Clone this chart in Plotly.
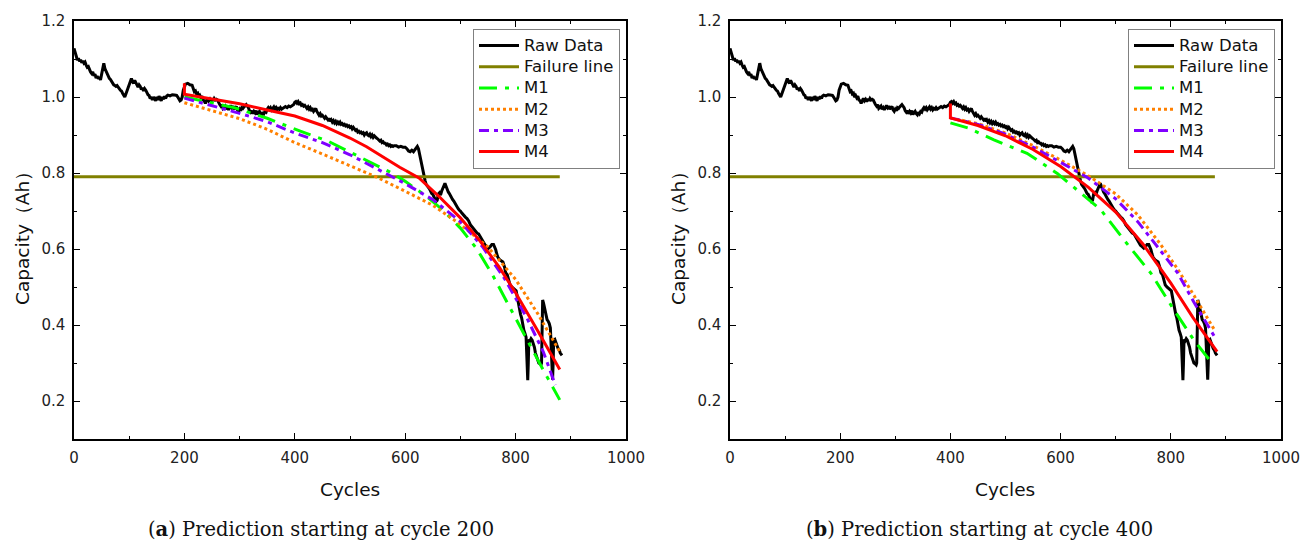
import plotly.graph_objects as go

# ---------------- data ----------------
raw_cycles = [
    0, 2, 4, 6, 8, 10, 12, 14, 16, 18, 20, 22, 24, 26, 28, 30, 32, 34, 36, 38, 40, 42, 44, 46, 48, 50,
    52, 54, 56, 58, 60, 62, 64, 66, 68, 70, 72, 74, 76, 78, 80, 82, 84, 86, 88, 90, 92, 94, 96, 98, 100,
    102, 104, 106, 108, 110, 112, 114, 116, 118, 120, 122, 124, 126, 128, 130, 132, 134, 136, 138, 140, 142, 144, 146, 148, 150,
    152, 154, 156, 158, 160, 162, 164, 166, 168, 170, 174, 178, 182, 186, 188, 190, 192, 194, 196, 198, 200, 202, 206, 210, 214,
    216, 218, 220, 222, 224, 226, 228, 230, 232, 234, 236, 238, 240, 242, 244, 246, 248, 250, 252, 254, 256, 258, 260, 262, 264,
    266, 268, 270, 272, 274, 276, 278, 280, 282, 284, 286, 288, 290, 292, 294, 296, 298, 300, 302, 304, 306, 308, 310, 312, 314,
    316, 318, 320, 322, 324, 326, 328, 330, 332, 334, 336, 338, 340, 342, 344, 346, 348, 350, 352, 354, 356, 358, 360, 362, 364,
    366, 368, 370, 372, 374, 376, 378, 380, 383, 386, 389, 392, 395, 398, 400, 402, 404, 406, 408, 410, 412, 414, 416, 418, 420,
    422, 424, 426, 428, 430, 432, 434, 436, 438, 440, 442, 444, 446, 448, 450, 452, 454, 456, 458, 460, 462, 464, 466, 468, 470,
    472, 474, 476, 478, 480, 482, 484, 486, 488, 490, 492, 494, 496, 498, 500, 502, 504, 506, 508, 510, 512, 514, 516, 518, 520,
    522, 524, 526, 528, 530, 532, 534, 536, 538, 540, 542, 544, 546, 548, 550, 552, 554, 556, 558, 560, 562, 564, 566, 568, 570,
    572, 574, 576, 578, 580, 584, 588, 592, 596, 600, 603, 606, 609, 612, 615, 618, 620, 622, 624, 626, 628, 630, 632, 634, 636,
    638, 640, 642, 644, 646, 648, 650, 652, 654, 656, 658, 660, 662, 664, 666, 668, 670, 672, 674, 676, 678, 680, 682, 684, 686,
    688, 690, 692, 694, 696, 698, 700, 703, 706, 709, 712, 715, 718, 721, 724, 727, 730, 733, 736, 739, 742, 745, 748, 751, 754,
    757, 760, 762, 764, 766, 768, 771, 774, 777, 780, 782, 785, 788, 790, 793, 796, 799, 801, 803, 805, 807, 809, 811, 813, 815,
    817, 819, 820, 821, 822, 823, 824, 826, 828, 830, 832, 834, 836, 838, 840, 842, 844, 846, 847, 848, 849, 851, 853, 855, 857,
    859, 861, 863, 865, 866, 867, 868, 869, 871, 873, 875, 877, 879, 881, 884]
raw_capacity = [
    1.128, 1.120, 1.108, 1.097, 1.102, 1.094, 1.098, 1.090, 1.095, 1.089, 1.092, 1.084, 1.078, 1.080, 1.070, 1.066, 1.062,
    1.066, 1.056, 1.060, 1.050, 1.055, 1.048, 1.052, 1.045, 1.058,
    1.080, 1.089, 1.075, 1.068, 1.060, 1.055, 1.049, 1.046, 1.040, 1.037, 1.032, 1.030, 1.028, 1.030, 1.024, 1.022, 1.018,
    1.016, 1.010, 1.006, 1.000, 1.008, 1.016, 1.024, 1.036,
    1.044, 1.049, 1.040, 1.036, 1.044, 1.038, 1.030, 1.026, 1.032, 1.028, 1.020, 1.024, 1.016, 1.022, 1.018, 1.010, 1.006,
    1.004, 0.996, 1.000, 0.992, 1.000, 0.994, 0.990, 1.000,
    0.992, 1.002, 0.995, 0.990, 1.000, 0.994, 1.002, 0.996, 1.003, 1.005, 1.003, 1.006, 1.005, 1.004, 1.000, 0.995, 0.990,
    0.992, 1.000, 1.018, 1.030, 1.034, 1.036, 1.032, 1.031,
    1.024, 1.014, 1.016, 1.008, 1.010, 1.000, 1.004, 0.998, 1.002, 0.992, 0.990, 0.983, 0.990, 0.996, 0.990, 0.994, 0.988,
    0.995, 0.990, 0.996, 0.992, 0.994, 0.992, 0.984, 0.980,
    0.976, 0.980, 0.970, 0.974, 0.976, 0.968, 0.972, 0.966, 0.974, 0.978, 0.972, 0.976, 0.968, 0.972, 0.975, 0.966, 0.962,
    0.968, 0.964, 0.972, 0.970, 0.974, 0.978, 0.980, 0.976,
    0.972, 0.964, 0.960, 0.964, 0.956, 0.962, 0.958, 0.964, 0.954, 0.958, 0.962, 0.956, 0.953, 0.960, 0.956, 0.962, 0.960,
    0.968, 0.972, 0.968, 0.972, 0.966, 0.970, 0.974, 0.968,
    0.972, 0.966, 0.970, 0.968, 0.972, 0.968, 0.970, 0.972, 0.975, 0.972, 0.976, 0.974, 0.978, 0.980, 0.986, 0.988, 0.984,
    0.988, 0.982, 0.984, 0.978, 0.980, 0.976, 0.978, 0.974,
    0.970, 0.974, 0.968, 0.972, 0.966, 0.968, 0.962, 0.966, 0.970, 0.962, 0.958, 0.952, 0.956, 0.950, 0.952, 0.946, 0.944,
    0.948, 0.944, 0.940, 0.944, 0.936, 0.940, 0.934, 0.938,
    0.932, 0.936, 0.930, 0.934, 0.930, 0.934, 0.928, 0.930, 0.926, 0.928, 0.924, 0.926, 0.922, 0.924, 0.920, 0.922, 0.916,
    0.920, 0.914, 0.912, 0.914, 0.908, 0.910, 0.906, 0.908,
    0.904, 0.906, 0.900, 0.904, 0.906, 0.900, 0.898, 0.902, 0.896, 0.900, 0.894, 0.898, 0.894, 0.892, 0.890, 0.886, 0.884,
    0.886, 0.880, 0.882, 0.878, 0.878, 0.874, 0.876, 0.872,
    0.874, 0.870, 0.872, 0.870, 0.872, 0.872, 0.868, 0.870, 0.868, 0.868, 0.864, 0.858, 0.856, 0.860, 0.856, 0.862, 0.866,
    0.870, 0.864, 0.850, 0.835, 0.817, 0.800, 0.790, 0.780,
    0.770, 0.764, 0.762, 0.758, 0.750, 0.746, 0.744, 0.738, 0.730, 0.725, 0.728, 0.745, 0.748, 0.742, 0.752, 0.760, 0.766,
    0.773, 0.765, 0.755, 0.750, 0.746, 0.740, 0.732, 0.730,
    0.726, 0.720, 0.716, 0.710, 0.706, 0.702, 0.700, 0.694, 0.688, 0.684, 0.680, 0.674, 0.664, 0.658, 0.652, 0.646, 0.642,
    0.640, 0.632, 0.626, 0.618, 0.610, 0.606, 0.602, 0.606,
    0.612, 0.612, 0.606, 0.598, 0.586, 0.578, 0.572, 0.570, 0.566, 0.552, 0.538, 0.532, 0.518, 0.505, 0.500, 0.496, 0.494,
    0.490, 0.474, 0.456, 0.440, 0.428, 0.418, 0.398, 0.386,
    0.378, 0.368, 0.330, 0.290, 0.255, 0.300, 0.362, 0.358, 0.364, 0.360, 0.352, 0.342, 0.326, 0.316, 0.306, 0.300, 0.298,
    0.295, 0.300, 0.420, 0.466, 0.455, 0.440, 0.424, 0.414,
    0.410, 0.404, 0.392, 0.340, 0.290, 0.256, 0.300, 0.360, 0.362, 0.350, 0.346, 0.338, 0.334, 0.326, 0.320]

failure_cycles = [0, 880]
failure_capacity = [0.79, 0.79]

# (a) prediction starting at cycle 200
a_m1_cycles = [200, 250, 290, 350, 410, 460, 530, 577, 600, 640, 670, 700, 730, 760, 790, 820, 850, 880]
a_m1_cap = [1.000, 0.985, 0.972, 0.944, 0.910, 0.884, 0.834, 0.799, 0.778, 0.737, 0.700, 0.655, 0.600, 0.527, 0.445,
            0.362, 0.282, 0.203]
a_m2_cycles = [200, 250, 300, 350, 400, 450, 500, 550, 600, 650, 700, 750, 800, 840, 880]
a_m2_cap = [0.985, 0.965, 0.943, 0.915, 0.880, 0.850, 0.820, 0.788, 0.752, 0.715, 0.665, 0.605, 0.520, 0.430, 0.330]
a_m3_cycles = [200, 250, 300, 350, 400, 450, 500, 550, 600, 650, 700, 740, 780, 820, 850, 872]
a_m3_cap = [0.997, 0.978, 0.957, 0.935, 0.905, 0.880, 0.848, 0.810, 0.772, 0.730, 0.672, 0.606, 0.522, 0.420, 0.330,
            0.242]
a_m4_cycles = [200, 200, 250, 300, 350, 400, 450, 500, 530, 560, 590, 625, 660, 700, 735, 770, 800, 840, 880]
a_m4_cap = [1.036, 1.007, 0.995, 0.982, 0.966, 0.950, 0.925, 0.892, 0.869, 0.843, 0.815, 0.787, 0.740, 0.682, 0.622,
            0.553, 0.485, 0.385, 0.283]

# (b) prediction starting at cycle 400
b_m1_cycles = [400, 433, 479, 539, 594, 630, 673, 715, 764, 806, 842, 873]
b_m1_cap = [0.932, 0.918, 0.887, 0.852, 0.799, 0.755, 0.703, 0.624, 0.536, 0.439, 0.360, 0.303]
b_m2_cycles = [400, 450, 500, 550, 600, 650, 700, 740, 780, 812, 842, 880]
b_m2_cap = [0.945, 0.930, 0.905, 0.872, 0.834, 0.793, 0.745, 0.690, 0.615, 0.548, 0.478, 0.385]
b_m3_cycles = [400, 450, 500, 550, 600, 650, 700, 740, 780, 812, 842, 879]
b_m3_cap = [0.945, 0.928, 0.902, 0.868, 0.828, 0.787, 0.732, 0.672, 0.598, 0.538, 0.460, 0.370]
b_m4_cycles = [400, 400, 450, 500, 550, 600, 650, 700, 750, 800, 840, 884]
b_m4_cap = [0.983, 0.945, 0.925, 0.898, 0.862, 0.817, 0.763, 0.697, 0.612, 0.510, 0.420, 0.330]

names = ["Raw Data", "Failure line", "M1", "M2", "M3", "M4"]
captions = ["(<b>a</b>) Prediction starting at cycle 200", "(<b>b</b>) Prediction starting at cycle 400"]

# ---------------- styling ----------------
W, H = 1303, 545
styles = [
    dict(color="#000000", width=3, dash="solid"),
    dict(color="#808000", width=3, dash="solid"),
    dict(color="#00FF00", width=3, dash="18px,8px,4px,8px"),
    dict(color="#FF8000", width=3, dash="dot"),
    dict(color="#8000FF", width=3, dash="10px,5px,4px,5px"),
    dict(color="#FF0000", width=3, dash="solid"),
]

panels = [
    dict(px=(74, 626), series=[(raw_cycles, raw_capacity), (failure_cycles, failure_capacity),
                               (a_m1_cycles, a_m1_cap), (a_m2_cycles, a_m2_cap),
                               (a_m3_cycles, a_m3_cap), (a_m4_cycles, a_m4_cap)],
         legend_px=(473, 29), cap_x=321),
    dict(px=(730, 1281), series=[(raw_cycles, raw_capacity), (failure_cycles, failure_capacity),
                                 (b_m1_cycles, b_m1_cap), (b_m2_cycles, b_m2_cap),
                                 (b_m3_cycles, b_m3_cap), (b_m4_cycles, b_m4_cap)],
         legend_px=(1128, 29), cap_x=979),
]

top_px, bot_px = 21, 439
ydom = [(H - bot_px) / H, (H - top_px) / H]

fig = go.Figure()
layout = dict(template="none", width=W, height=H, margin=dict(l=0, r=0, t=0, b=0, pad=0, autoexpand=False),
              paper_bgcolor="white", plot_bgcolor="white", annotations=[],
              font=dict(family="DejaVu Sans", color="#111111"))

tickfont = dict(family="DejaVu Sans", size=15, color="#222222")

for i, p in enumerate(panels):
    sfx = "" if i == 0 else str(i + 1)
    legname = "legend" if i == 0 else "legend2"
    for (xs, ys), nm, st in zip(p["series"], names, styles):
        fig.add_trace(go.Scatter(x=xs, y=ys, mode="lines",
                                 name='<span style="font-size:16.5px">' + nm + '</span>', line=st,
                                 xaxis="x" + sfx, yaxis="y" + sfx, legend=legname))
    x0, x1 = p["px"]
    common = dict(showline=True, linecolor="black", linewidth=1.5, mirror="ticks",
                  ticks="inside", ticklen=6, tickwidth=1.3, tickcolor="black",
                  showgrid=False, zeroline=False, tickfont=tickfont, automargin=False)
    layout["xaxis" + sfx] = dict(domain=[x0 / W, x1 / W], range=[0, 1000], dtick=200, tick0=0,
                                 anchor="y" + sfx, ticklabelstandoff=4,
                                 minor=dict(ticks="inside", ticklen=3, tickwidth=1.2, tickcolor="black",
                                            showgrid=False, dtick=100),
                                 **common)
    layout["yaxis" + sfx] = dict(domain=ydom, range=[0.1, 1.2], dtick=0.2, tick0=0, tickformat=".1f",
                                 anchor="x" + sfx, ticklabelstandoff=4,
                                 minor=dict(ticks="inside", ticklen=3, tickwidth=1.2, tickcolor="black",
                                            showgrid=False, dtick=0.1),
                                 **common)
    lx, ly = p["legend_px"]
    layout[legname] = dict(x=lx / W, y=(H - ly) / H, xanchor="left", yanchor="top",
                           xref="paper", yref="paper",
                           bgcolor="white", bordercolor="#808080", borderwidth=1,
                           font=dict(family="DejaVu Sans", size=14, color="#111111"),
                           itemwidth=40, tracegroupgap=0)
    xc = (x0 + x1) / 2
    layout["annotations"].append(dict(text="Cycles", x=xc / W, y=(H - 489) / H, xref="paper", yref="paper",
                                      showarrow=False, xanchor="center", yanchor="middle",
                                      font=dict(family="DejaVu Sans", size=18.5, color="#111111")))
    layout["annotations"].append(dict(text="Capacity（Ah）", x=(x0 - 52) / W, y=(H - 234) / H,
                                      xref="paper", yref="paper", textangle=-90,
                                      showarrow=False, xanchor="center", yanchor="middle",
                                      font=dict(family="DejaVu Sans", size=18.5, color="#111111")))
    layout["annotations"].append(dict(text=captions[i], x=p["cap_x"] / W, y=(H - 529) / H,
                                      xref="paper", yref="paper", showarrow=False,
                                      xanchor="center", yanchor="middle",
                                      font=dict(family="DejaVu Serif", size=19.5, color="#111111")))

fig.update_layout(**layout)
fig.write_html("out.html", config={"displayModeBar": False},
               post_script="document.body.style.margin='0';document.body.style.overflow='hidden';")
